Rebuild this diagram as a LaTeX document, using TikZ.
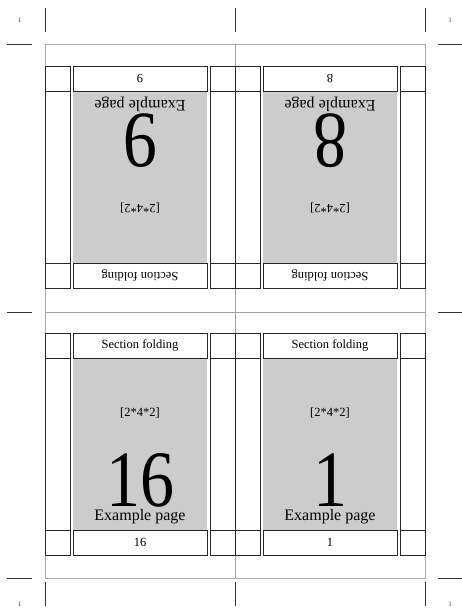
\documentclass[tikz,border=0pt]{standalone}
\usepackage{fontspec}
\setmainfont{Liberation Serif}
\usepackage{tikz}
\definecolor{sheetgray}{HTML}{CCCCCC}
\definecolor{framegray}{HTML}{ABABAB}
\definecolor{foldgray}{HTML}{A0A0A0}

\begin{document}
\begin{tikzpicture}[
  x=1pt,y=1pt,
  box/.style={draw=black!85,line width=0.6pt},
  slot/.style={box,minimum width=134pt,minimum height=25pt,inner sep=0pt,
    font=\fontsize{12.5}{14}\selectfont},
  bignum/.style={inner sep=0pt,font=\fontsize{80}{84}\selectfont},
  pagetitle/.style={inner sep=0pt,font=\fontsize{16}{18}\selectfont},
  sigtext/.style={inner sep=0pt,font=\fontsize{12.5}{14}\selectfont},
  cornerno/.style={inner sep=0pt,text=black!75,font=\fontsize{7}{8}\selectfont},
  crop/.style={draw=black!80,line width=0.6pt},
  frame/.style={draw=framegray,line width=0.6pt},
  fold/.style={draw=foldgray,line width=0.9pt}
]
  \useasboundingbox (0,0) rectangle (462,614);

  % sheet frame and folds
  \draw[frame] (45,36) rectangle (425,570);
  \draw[fold] (235,36) -- (235,570);
  \draw[fold] (45,302) -- (425,302);

  % crop marks
  \foreach \cx in {45,235,425}{
    \draw[crop] (\cx,582) -- (\cx,606);
    \draw[crop] (\cx,8) -- (\cx,32);
  }
  \foreach \cy in {570,302,36}{
    \draw[crop] (7,\cy) -- (32,\cy);
    \draw[crop] (438,\cy) -- (462,\cy);
  }
  \node[cornerno] (ctl) at (19.5,594) {1};
  \node[cornerno] (ctr) at (450,594) {1};
  \node[cornerno] (cbl) at (19.5,10) {1};
  \node[cornerno] (cbr) at (450,10) {1};

  % the four pages, top row turned upside down
  \foreach \px/\py/\rot/\num in {140/170/0/16,330/170/0/1,
                                 140/436.5/180/9,330/436.5/180/8}{
    \begin{scope}[shift={(\px,\py)},rotate=\rot,transform shape]
      \fill[sheetgray] (-67,-86) rectangle (67,86);
      \foreach \sx in {-95,70}{
        \draw[box] (\sx,86) rectangle ++(25,25);
        \draw[box] (\sx,-86) rectangle ++(25,172);
        \draw[box] (\sx,-111) rectangle ++(25,25);
      }
      \node[slot] (head\num) at (0,98.5) {Section folding};
      \node[slot] (foot\num) at (0,-98.5) {\num};
      \node[sigtext] (sig\num) at (0,31) {[2*4*2]};
      \node[bignum,anchor=base] (big\num) at (0,-63)
        {\scalebox{0.85}[1]{\num}};
      \node[pagetitle,anchor=base] (title\num) at (0,-77) {Example page};
    \end{scope}
  }
\end{tikzpicture}
\end{document}
